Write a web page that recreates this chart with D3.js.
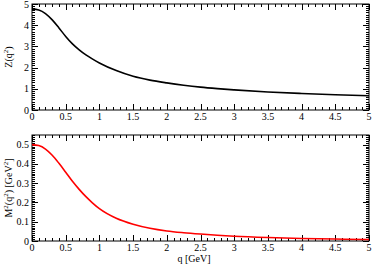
<!DOCTYPE html>
<html lang="en">
<head>
<meta charset="UTF-8">
<script src="https://d3js.org/d3.v7.min.js"></script>
<style>
  body{margin:0;background:#fff;}
  text{font-family:"Liberation Serif","DejaVu Serif",serif;fill:#000;}
</style>
</head>
<body>
<svg id="chart" width="372" height="265"></svg>
<script>
// values
var qVals  = [0,0.1,0.2,0.3,0.4,0.5,0.6,0.7,0.8,0.9,1.0,1.25,1.5,1.75,2,2.25,2.5,2.75,3,3.5,4,4.5,5];
var zVals  = [4.77,4.72,4.55,4.25,3.87,3.47,3.12,2.84,2.6,2.4,2.22,1.86,1.59,1.41,1.28,1.17,1.08,1.01,0.95,0.85,0.78,0.72,0.67];
var m2Vals = [0.5,0.495,0.477,0.445,0.403,0.357,0.31,0.268,0.23,0.197,0.168,0.118,0.087,0.066,0.052,0.043,0.036,0.03,0.025,0.018,0.013,0.01,0.008];

var xTicks   = [0,0.5,1,1.5,2,2.5,3,3.5,4,4.5,5];
var zTicks   = [0,1,2,3,4,5];
var m2Ticks  = [0,0.1,0.2,0.3,0.4,0.5];

var svg=d3.select('#chart');
var left=32,right=369;

var x=d3.scaleLinear().domain([0,5]).range([left,right]);

function panel(top,bottom,yDomain,yMajor,yMinorStep,vals,color,ylabel){
    var y=d3.scaleLinear().domain(yDomain).range([bottom,top]);
    var g=svg.append('g');
    var xMinor=d3.range(0,5.0001,0.1);
    var yMinor=d3.range(yDomain[0],yDomain[1]+1e-9,yMinorStep);

    // frame
    g.append('rect').attr('x',left).attr('y',top)
        .attr('width',right-left).attr('height',bottom-top)
        .attr('fill','none').attr('stroke','#000').attr('stroke-width',1);

    // ticks, pointing inward on all four sides
    function tk(x1,y1,x2,y2){
        g.append('line').attr('x1',x1).attr('y1',y1).attr('x2',x2).attr('y2',y2)
            .attr('stroke','#000').attr('stroke-width',1);
    }
    xMinor.forEach(function(v){
        var px=Math.round(x(v))+0.5;
        tk(px,bottom,px,bottom-3); tk(px,top,px,top+3);
    });
    xTicks.forEach(function(v){
        var px=Math.round(x(v))+0.5;
        tk(px,bottom,px,bottom-6); tk(px,top,px,top+6);
    });
    yMinor.forEach(function(v){
        var py=Math.round(y(v))+0.5;
        tk(left,py,left+3,py); tk(right,py,right-3,py);
    });
    yMajor.forEach(function(v){
        var py=Math.round(y(v))+0.5;
        tk(left,py,left+6,py); tk(right,py,right-6,py);
    });

    // tick labels
    g.selectAll('.xl').data(xTicks).enter().append('text')
        .attr('x',function(d){return x(d);})
        .attr('y',bottom+10)
        .attr('text-anchor','middle')
        .style('font-size','10px')
        .text(function(d){return d;});
    g.selectAll('.yl').data(yMajor).enter().append('text')
        .attr('x',left-3)
        .attr('y',function(d){return y(d)+3.5;})
        .attr('text-anchor','end')
        .style('font-size','10px')
        .text(function(d){return d;});

    // curve
    var line=d3.line()
        .x(function(d,i){return x(qVals[i]);})
        .y(function(d){return y(d);})
        .curve(d3.curveMonotoneX);
    g.append('path').datum(vals)
        .attr('d',line)
        .attr('fill','none')
        .attr('stroke',color)
        .attr('stroke-width',1.6);

    // y axis title
    var cy=(top+bottom)/2;
    var t=g.append('text')
        .attr('transform','translate(12,'+cy+') rotate(-90)')
        .attr('text-anchor','middle')
        .style('font-size','10px');
    ylabel(t);
    return y;
}

panel(4,110,[0,5],zTicks,0.1,zVals,'#000',function(t){
    t.append('tspan').text('Z(q');
    t.append('tspan').attr('dy',-4).style('font-size','7px').text('2');
    t.append('tspan').attr('dy',4).text(')');
});

panel(135,241,[0,0.55],m2Ticks,0.01,m2Vals,'#ff0000',function(t){
    t.append('tspan').text('M');
    t.append('tspan').attr('dy',-4).style('font-size','7px').text('2');
    t.append('tspan').attr('dy',4).text('(q');
    t.append('tspan').attr('dy',-4).style('font-size','7px').text('2');
    t.append('tspan').attr('dy',4).text(')  [GeV');
    t.append('tspan').attr('dy',-4).style('font-size','7px').text('2');
    t.append('tspan').attr('dy',4).text(']');
});

svg.append('text')
    .attr('x',194).attr('y',262)
    .attr('text-anchor','middle')
    .style('font-size','10px')
    .text('q  [GeV]');
</script>
</body>
</html>
